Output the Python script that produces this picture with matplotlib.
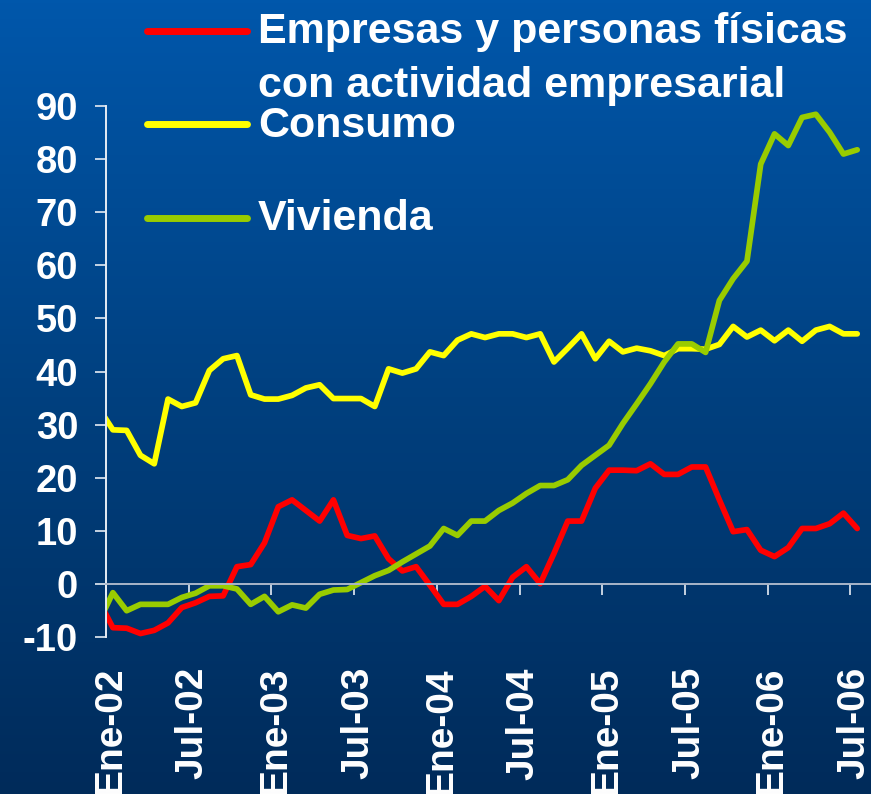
import numpy as np
import matplotlib
matplotlib.use('Agg')
import matplotlib.pyplot as plt
from matplotlib.colors import LinearSegmentedColormap
from matplotlib.lines import Line2D
import matplotlib.transforms as mtransforms

plt.rcParams['font.family'] = ['Liberation Sans', 'DejaVu Sans']

# monthly series, Dic-01 .. Jul-06 (the Dic-01 point is cut off by the y axis)
months = ['Dic-01'] + [f'{m}-{y:02d}' for y in range(2, 7)
                       for m in ['Ene', 'Feb', 'Mar', 'Abr', 'May', 'Jun',
                                 'Jul', 'Ago', 'Sep', 'Oct', 'Nov', 'Dic']][:55]

empresas = [-3.3,
            -8.3, -8.4, -9.4, -8.8, -7.4, -4.5, -3.6, -2.4, -2.3, 3.2, 3.6, 7.7,
            14.5, 15.8, 13.8, 11.8, 15.8, 9.1, 8.5, 9.0, 4.7, 2.4, 3.2, -0.3,
            -3.9, -3.9, -2.4, -0.5, -3.2, 1.2, 3.2, 0.0, 5.7, 11.8, 11.8, 18.0,
            21.4, 21.4, 21.3, 22.6, 20.6, 20.6, 22.0, 22.0, 15.8, 9.8, 10.2, 6.3,
            5.1, 6.8, 10.4, 10.4, 11.3, 13.3, 10.4]

consumo = [33.0,
           29.0, 28.9, 24.2, 22.6, 34.8, 33.4, 34.1, 40.2, 42.4, 43.0, 35.6, 34.8,
           34.8, 35.5, 36.9, 37.5, 34.9, 34.9, 34.9, 33.4, 40.5, 39.7, 40.5, 43.7,
           43.0, 45.9, 47.1, 46.4, 47.1, 47.1, 46.4, 47.1, 41.8, 44.4, 47.1, 42.4,
           45.7, 43.7, 44.4, 43.9, 43.0, 44.3, 44.3, 44.2, 45.1, 48.5, 46.5, 47.8,
           45.8, 47.8, 45.7, 47.8, 48.5, 47.1, 47.1]

vivienda = [-7.1,
            -1.7, -5.1, -3.9, -3.9, -3.9, -2.6, -1.8, -0.4, -0.4, -1.0, -3.9, -2.4,
            -5.3, -4.0, -4.6, -2.0, -1.2, -1.1, 0.2, 1.5, 2.5, 4.1, 5.6, 7.1,
            10.4, 9.1, 11.8, 11.8, 13.8, 15.2, 17.0, 18.5, 18.5, 19.6, 22.3, 24.2,
            26.1, 30.2, 33.9, 37.7, 41.8, 45.2, 45.2, 43.6, 53.4, 57.5, 60.8, 79.1,
            84.8, 82.6, 87.9, 88.5, 85.1, 81.0, 81.8]

x_labels = ['Ene-02', 'Jul-02', 'Ene-03', 'Jul-03', 'Ene-04',
            'Jul-04', 'Ene-05', 'Jul-05', 'Ene-06', 'Jul-06']
y_ticks = [-10, 0, 10, 20, 30, 40, 50, 60, 70, 80, 90]

series = [
    ('Empresas y personas físicas\ncon actividad empresarial', empresas, '#FF0000'),
    ('Consumo', consumo, '#FFFF00'),
    ('Vivienda', vivienda, '#99CC00'),
]

W, H = 871, 794
fig = plt.figure(figsize=(W / 100, H / 100), dpi=100)

# background gradient
bg = fig.add_axes([0, 0, 1, 1], zorder=0)
grad = np.linspace(0, 1, 256).reshape(-1, 1)
cmap = LinearSegmentedColormap.from_list('bg', ['#0057AB', '#00407F', '#002B5A'])
bg.imshow(grad, aspect='auto', cmap=cmap, extent=[0, 1, 0, 1], origin='upper')
bg.axis('off')

ax_left, ax_top, ax_bottom = 106, 106.3, 636.7
ax = fig.add_axes([ax_left / W, 1 - ax_bottom / H, 1 - ax_left / W,
                   (ax_bottom - ax_top) / H], zorder=1)
ax.set_facecolor('none')

x = np.arange(-1, len(months) - 1)
for name, vals, col in series:
    ax.plot(x, vals, color=col, lw=4.1, solid_joinstyle='round',
            solid_capstyle='round')

ax.set_xlim(-0.5, 55.0)
ax.set_ylim(-10, 90)

for s in ['top', 'right']:
    ax.spines[s].set_visible(False)
ax.spines['left'].set_color('#E6ECF4')
ax.spines['left'].set_linewidth(1.4)
ax.spines['bottom'].set_position(('data', 0))
ax.spines['bottom'].set_color('#A9B6C9')
ax.spines['bottom'].set_linewidth(1.4)

ax.set_yticks(y_ticks)
ax.set_yticklabels([str(v) for v in y_ticks])
ax.tick_params(axis='y', direction='out', length=8, width=1.2, color='#E6ECF4',
               pad=12, labelsize=27.5, labelcolor='white')
for lab in ax.get_yticklabels():
    lab.set_fontweight('bold')

ax.set_xticks(np.arange(-0.5, 54, 6))
ax.set_xticklabels([])
ax.tick_params(axis='x', direction='out', length=7.6, width=1.2, color='#E6ECF4')

trans = mtransforms.blended_transform_factory(ax.transData, fig.transFigure)
for i, lab in enumerate(x_labels):
    ax.text(6 * i - 0.2, 1 - 667 / H, lab, transform=trans, rotation=90,
            ha='center', va='top', fontsize=28, fontweight='bold',
            color='white', clip_on=False)

# legend drawn by hand
legend_rows = [(30.7, [(42.5, 'Empresas y personas físicas'),
                       (97.5, 'con actividad empresarial')]),
               (124.3, [(137.0, 'Consumo')]),
               (218.3, [(229.5, 'Vivienda')])]
for (ly, lines), (_, _, col) in zip(legend_rows, series):
    fig.add_artist(Line2D([146.5 / W, 246.5 / W], [1 - ly / H] * 2,
                          transform=fig.transFigure, color=col, lw=5,
                          solid_capstyle='round'))
    for by, txt in lines:
        fig.text(258 / W, 1 - by / H, txt, ha='left', va='baseline',
                 fontsize=31, fontweight='bold', color='white')

fig.savefig('out.png', dpi=100)
